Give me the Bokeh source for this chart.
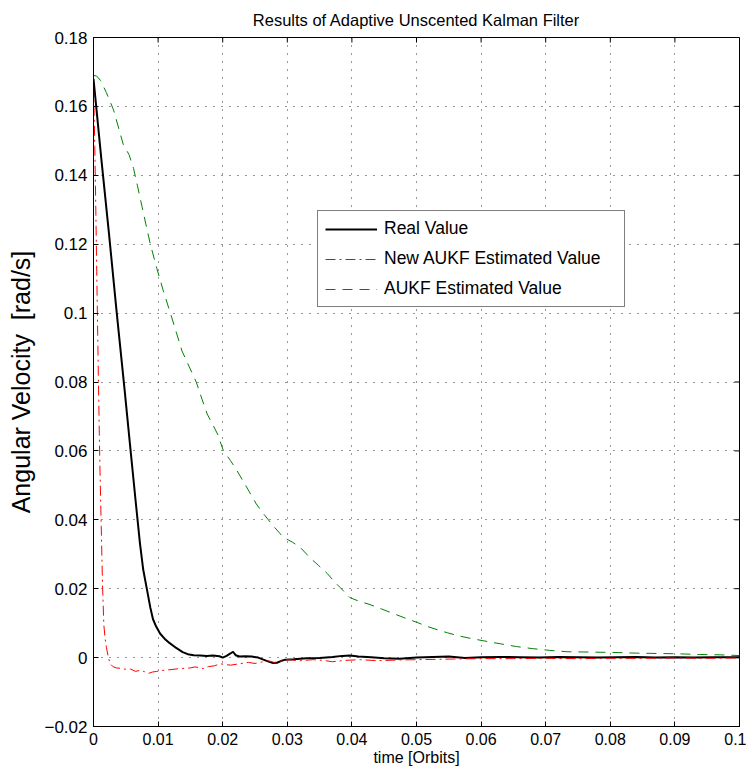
from bokeh.plotting import figure
from bokeh.models import FixedTicker, Legend, LegendItem, Range1d
from bokeh.embed import file_html
from bokeh.resources import INLINE

# ---------------- data ----------------
x_ticks = [0, 0.01, 0.02, 0.03, 0.04, 0.05, 0.06, 0.07, 0.08, 0.09, 0.1]
x_tick_labels = ["0", "0.01", "0.02", "0.03", "0.04", "0.05", "0.06", "0.07", "0.08", "0.09", "0.1"]
y_ticks = [-0.02, 0, 0.02, 0.04, 0.06, 0.08, 0.1, 0.12, 0.14, 0.16, 0.18]
y_tick_labels = ["\u22120.02", "0", "0.02", "0.04", "0.06", "0.08", "0.1", "0.12", "0.14", "0.16", "0.18"]

real_t = [0.0, 0.0012, 0.0024, 0.0036, 0.0048, 0.0058, 0.0066, 0.0072, 0.0077, 0.0083,
          0.0088, 0.0092, 0.0097, 0.0103, 0.0110, 0.0118, 0.0128, 0.0138, 0.0146, 0.0155,
          0.0165, 0.0175, 0.0185, 0.0195, 0.0200, 0.0206, 0.0212, 0.0216, 0.0220, 0.0226,
          0.0235, 0.0245, 0.0255, 0.0263, 0.0270, 0.0278, 0.0284, 0.0290, 0.0297, 0.0310,
          0.0330, 0.0350, 0.0370, 0.0385, 0.0397, 0.0410, 0.0430, 0.0450, 0.0474, 0.0500,
          0.0525, 0.0550, 0.0575, 0.0600, 0.0630, 0.0660, 0.0690, 0.0720, 0.0750, 0.0780,
          0.0810, 0.0840, 0.0870, 0.0900, 0.0930, 0.0960, 0.1000]
real_v = [0.168, 0.145, 0.123, 0.100, 0.078, 0.059, 0.044, 0.033, 0.0255, 0.0195,
          0.0145, 0.0112, 0.0090, 0.0070, 0.0055, 0.0042, 0.0028, 0.0016, 0.0010, 0.0007,
          0.0006, 0.0005, 0.0006, 0.0004, 0.0000, 0.0005, 0.0012, 0.0017, 0.0007, 0.0003,
          0.0004, 0.0003, 0.0000, -0.0006, -0.0011, -0.0016, -0.0015, -0.0010, -0.0006, -0.0005,
          -0.0002, -0.0001, 0.0002, 0.0005, 0.0006, 0.0003, 0.0001, -0.0002, -0.0003, 0.0000,
          0.0002, 0.0003, -0.0001, 0.0001, 0.0002, 0.0001, 0.0000, 0.0002, 0.0001, 0.0000,
          0.0001, 0.0002, 0.0000, 0.0001, 0.0000, 0.0001, 0.0001]

new_t = [0.0, 0.0001, 0.0002, 0.0003, 0.0004, 0.0005, 0.0006, 0.0007, 0.0008, 0.0009,
         0.0010, 0.0011, 0.0012, 0.0013, 0.0014, 0.0016, 0.0018, 0.0020, 0.0023, 0.0026,
         0.0030, 0.0035, 0.0042, 0.0050, 0.0057, 0.0065, 0.0072, 0.0079, 0.0085, 0.0091,
         0.0098, 0.0104, 0.0112, 0.0120, 0.0128, 0.0134, 0.0142, 0.0150, 0.0157, 0.0163,
         0.0170, 0.0178, 0.0187, 0.0196, 0.0204, 0.0212, 0.0222, 0.0232, 0.0240, 0.0250,
         0.0260, 0.0270, 0.0280, 0.0290, 0.0300, 0.0320, 0.0340, 0.0355, 0.0370, 0.0390,
         0.0413, 0.0440, 0.0470, 0.0500, 0.0530, 0.0560, 0.0603, 0.0650, 0.0700, 0.0750,
         0.0800, 0.0850, 0.0900, 0.0950, 0.1000]
new_v = [0.166, 0.158, 0.148, 0.137, 0.125, 0.112, 0.100, 0.088, 0.076, 0.065,
         0.055, 0.046, 0.038, 0.029, 0.021, 0.0095, 0.0055, 0.0030, 0.0000, -0.0018,
         -0.0026, -0.0030, -0.0031, -0.0034, -0.0033, -0.0040, -0.0037, -0.0041, -0.0046, -0.0042,
         -0.0040, -0.0038, -0.0036, -0.0035, -0.0033, -0.0032, -0.0031, -0.0030, -0.0027, -0.0029,
         -0.0032, -0.0026, -0.0024, -0.0018, -0.0020, -0.0022, -0.0019, -0.0016, -0.0014, -0.0017,
         -0.0013, -0.0009, -0.0014, -0.0010, -0.0006, -0.0009, -0.0006, -0.0008, -0.0012, -0.0008,
         -0.0006, -0.0009, -0.0007, -0.0006, -0.0005, -0.0004, -0.0003, -0.0003, -0.0002, -0.0003,
         -0.0002, -0.0002, -0.0001, -0.0002, -0.0001]

aukf_t = [0.0, 0.0005, 0.0011, 0.0020, 0.0031, 0.0040, 0.0046, 0.0055, 0.0062, 0.0068,
          0.0075, 0.0082, 0.0088, 0.0098, 0.0108, 0.0119, 0.0128, 0.0137, 0.0148, 0.0159,
          0.0168, 0.0176, 0.0185, 0.0192, 0.0201, 0.0212, 0.0222, 0.0237, 0.0252, 0.0265,
          0.0278, 0.0294, 0.0308, 0.0320, 0.0335, 0.0348, 0.0362, 0.0372, 0.0382, 0.0397,
          0.0412, 0.0428, 0.0446, 0.0464, 0.0482, 0.0501, 0.0516, 0.0532, 0.0548, 0.0563,
          0.0583, 0.0603, 0.0630, 0.0655, 0.0680, 0.0706, 0.0733, 0.0770, 0.0804, 0.0840,
          0.0872, 0.0905, 0.0938, 0.0970, 0.1000]
aukf_v = [0.169, 0.1688, 0.1675, 0.164, 0.159, 0.153, 0.149, 0.146, 0.142, 0.137,
          0.131, 0.125, 0.120, 0.113, 0.1065, 0.100, 0.0945, 0.089, 0.0845, 0.080,
          0.075, 0.0707, 0.0675, 0.0649, 0.0601, 0.0572, 0.0543, 0.0495, 0.0446, 0.0413,
          0.0383, 0.0349, 0.0335, 0.0320, 0.0290, 0.0268, 0.0244, 0.0222, 0.0203, 0.0174,
          0.0163, 0.0154, 0.0141, 0.0128, 0.0115, 0.0102, 0.0091, 0.0081, 0.0072, 0.0064,
          0.0056, 0.0049, 0.0040, 0.0032, 0.0026, 0.0021, 0.0017, 0.0016, 0.0015, 0.0013,
          0.0012, 0.0011, 0.0009, 0.0008, 0.0006]

series_labels = ["Real Value", "New AUKF Estimated Value", "AUKF Estimated Value"]

# ---------------- figure ----------------
FONT = "Liberation Sans"
X0, X1 = x_ticks[0], x_ticks[-1]
Y0, Y1 = y_ticks[0], y_ticks[-1]

p = figure(width=746, height=770,
           x_range=Range1d(X0, X1), y_range=Range1d(Y0, Y1),
           output_backend="svg", toolbar_location=None,
           min_border_left=93, min_border_right=7,
           min_border_top=37, min_border_bottom=44,
           title="Results of Adaptive Unscented Kalman Filter")

p.title.align = "center"
p.title.text_font = FONT
p.title.text_font_size = "16.5px"
p.title.text_font_style = "normal"
p.title.text_color = "black"
p.title.standoff = 17

p.outline_line_color = "black"
p.outline_line_width = 1
p.background_fill_color = "white"
p.border_fill_color = "white"

x_over = {t: l for t, l in zip(x_ticks, x_tick_labels)}
y_over = {t: l for t, l in zip(y_ticks, y_tick_labels)}

for ax in (p.xaxis[0], p.yaxis[0]):
    ax.major_tick_in = 5
    ax.major_tick_out = 0
    ax.minor_tick_in = 0
    ax.minor_tick_out = 0
    ax.axis_line_color = "black"
    ax.major_tick_line_color = "black"
    ax.major_label_text_font = FONT
    ax.major_label_text_color = "black"
    ax.axis_label_text_font = FONT
    ax.axis_label_text_font_style = "normal"
    ax.axis_label_text_color = "black"

p.xaxis.ticker = FixedTicker(ticks=x_ticks)
p.xaxis.major_label_overrides = x_over
p.xaxis.major_label_text_font_size = "16px"
p.xaxis.axis_label = "time [Orbits]"
p.xaxis.axis_label_text_font_size = "16px"
p.xaxis.major_label_standoff = 6
p.xaxis.axis_label_standoff = 1

p.yaxis.ticker = FixedTicker(ticks=y_ticks)
p.yaxis.major_label_overrides = y_over
p.yaxis.major_label_text_font_size = "17px"
p.yaxis.axis_label = "Angular Velocity\u00a0\u00a0[rad/s]"
p.yaxis.axis_label_text_font_size = "25px"
p.yaxis.major_label_standoff = 6
p.yaxis.axis_label_standoff = 6

for g in (p.xgrid[0], p.ygrid[0]):
    g.grid_line_color = "black"
    g.grid_line_width = 1
    g.grid_line_dash = "1 7"
    g.grid_line_alpha = 0.8

# inward ticks on the top and right edges of the box (MATLAB style)
tick_dx = (X1 - X0) / 646 * 5
tick_dy = (Y1 - Y0) / 689 * 5
p.segment(x0=x_ticks, y0=[Y1] * len(x_ticks), x1=x_ticks, y1=[Y1 - tick_dy] * len(x_ticks),
          line_color="black", line_width=1)
p.segment(x0=[X1] * len(y_ticks), y0=y_ticks, x1=[X1 - tick_dx] * len(y_ticks), y1=y_ticks,
          line_color="black", line_width=1)

r_real = p.line(real_t, real_v, line_color="black", line_width=2)
r_new = p.line(new_t, new_v, line_color="#ff0000", line_width=1, line_dash="10 4 2 4")
r_aukf = p.line(aukf_t, aukf_v, line_color="#008000", line_width=1, line_dash="10 7")

legend = Legend(items=[LegendItem(label=series_labels[0], renderers=[r_real]),
                       LegendItem(label=series_labels[1], renderers=[r_new]),
                       LegendItem(label=series_labels[2], renderers=[r_aukf])],
                location=(224, 419))
legend.border_line_color = "black"
legend.border_line_width = 1
legend.background_fill_color = "white"
legend.background_fill_alpha = 1
legend.padding = 7
legend.spacing = 9
legend.margin = 0
legend.glyph_width = 52
legend.glyph_height = 20
legend.label_height = 20
legend.label_width = 233
legend.label_standoff = 7
legend.label_text_font = FONT
legend.label_text_font_size = "17.5px"
legend.label_text_color = "black"
p.add_layout(legend, "center")

open("out.html", "w").write(file_html(p, INLINE))
